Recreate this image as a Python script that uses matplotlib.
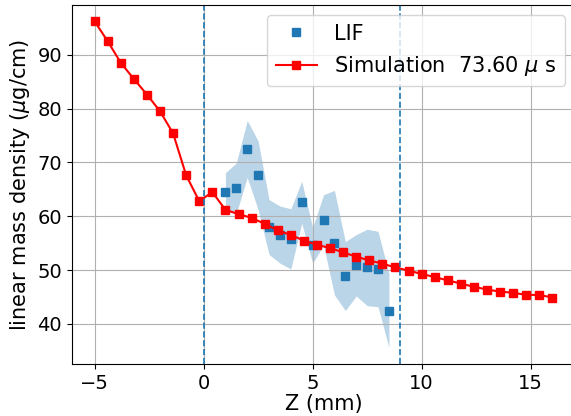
import numpy as np
import matplotlib
matplotlib.use('Agg')
import matplotlib.pyplot as plt

# Simulation profile (z in mm, density in ug/cm)
sim_z = np.round(np.arange(-5.0, 16.01, 0.6), 2)
sim_rho = [96.2, 92.5, 88.5, 85.5, 82.6, 79.5, 75.4, 67.6, 62.8, 64.5,
           61.2, 60.4, 59.7, 58.6, 57.4, 56.5, 55.5, 54.7, 54.1, 53.3,
           52.5, 51.8, 51.2, 50.5, 49.9, 49.3, 48.7, 48.1, 47.5, 46.9,
           46.4, 46.0, 45.8, 45.4, 45.4, 44.9]

# LIF measurement and its uncertainty band
lif_z = [1.0, 1.5, 2.0, 2.5, 3.0, 3.5, 4.0, 4.5,
         5.0, 5.5, 6.0, 6.5, 7.0, 7.5, 8.0, 8.5]
lif_rho = [64.5, 65.2, 72.5, 67.6, 58.0, 56.6, 55.8, 62.6,
           54.6, 59.3, 55.1, 48.9, 50.9, 50.5, 50.2, 42.5]
lif_err = [3.6, 4.7, 5.3, 6.4, 5.1, 5.3, 5.6, 3.9,
           3.3, 4.7, 9.7, 6.4, 5.7, 7.1, 7.0, 6.9]

plt.rcParams['font.size'] = 15
plt.rcParams['xtick.labelsize'] = 14
plt.rcParams['ytick.labelsize'] = 14

fig = plt.figure(figsize=(5.71, 4.16), dpi=100)
ax = fig.add_axes([0.1256, 0.125, 0.882, 0.863])

lo = np.array(lif_rho) - np.array(lif_err)
hi = np.array(lif_rho) + np.array(lif_err)
ax.fill_between(lif_z, lo, hi, color='C0', alpha=0.3, linewidth=0)
ax.plot(lif_z, lif_rho, 's', color='C0', markersize=6, label='LIF')
ax.plot(sim_z, sim_rho, 's-', color='red', markersize=6,
        label=r'Simulation  73.60 $\mu$ s')

ax.axvline(0, color='C0', linestyle='--', linewidth=1.2)
ax.axvline(9, color='C0', linestyle='--', linewidth=1.2)

ax.set_xlabel('Z (mm)', labelpad=1)
ax.set_ylabel(r'linear mass density ($\mu$g/cm)')
ax.grid(True)
ax.legend(loc='upper right')

fig.savefig('out.png', dpi=100)
